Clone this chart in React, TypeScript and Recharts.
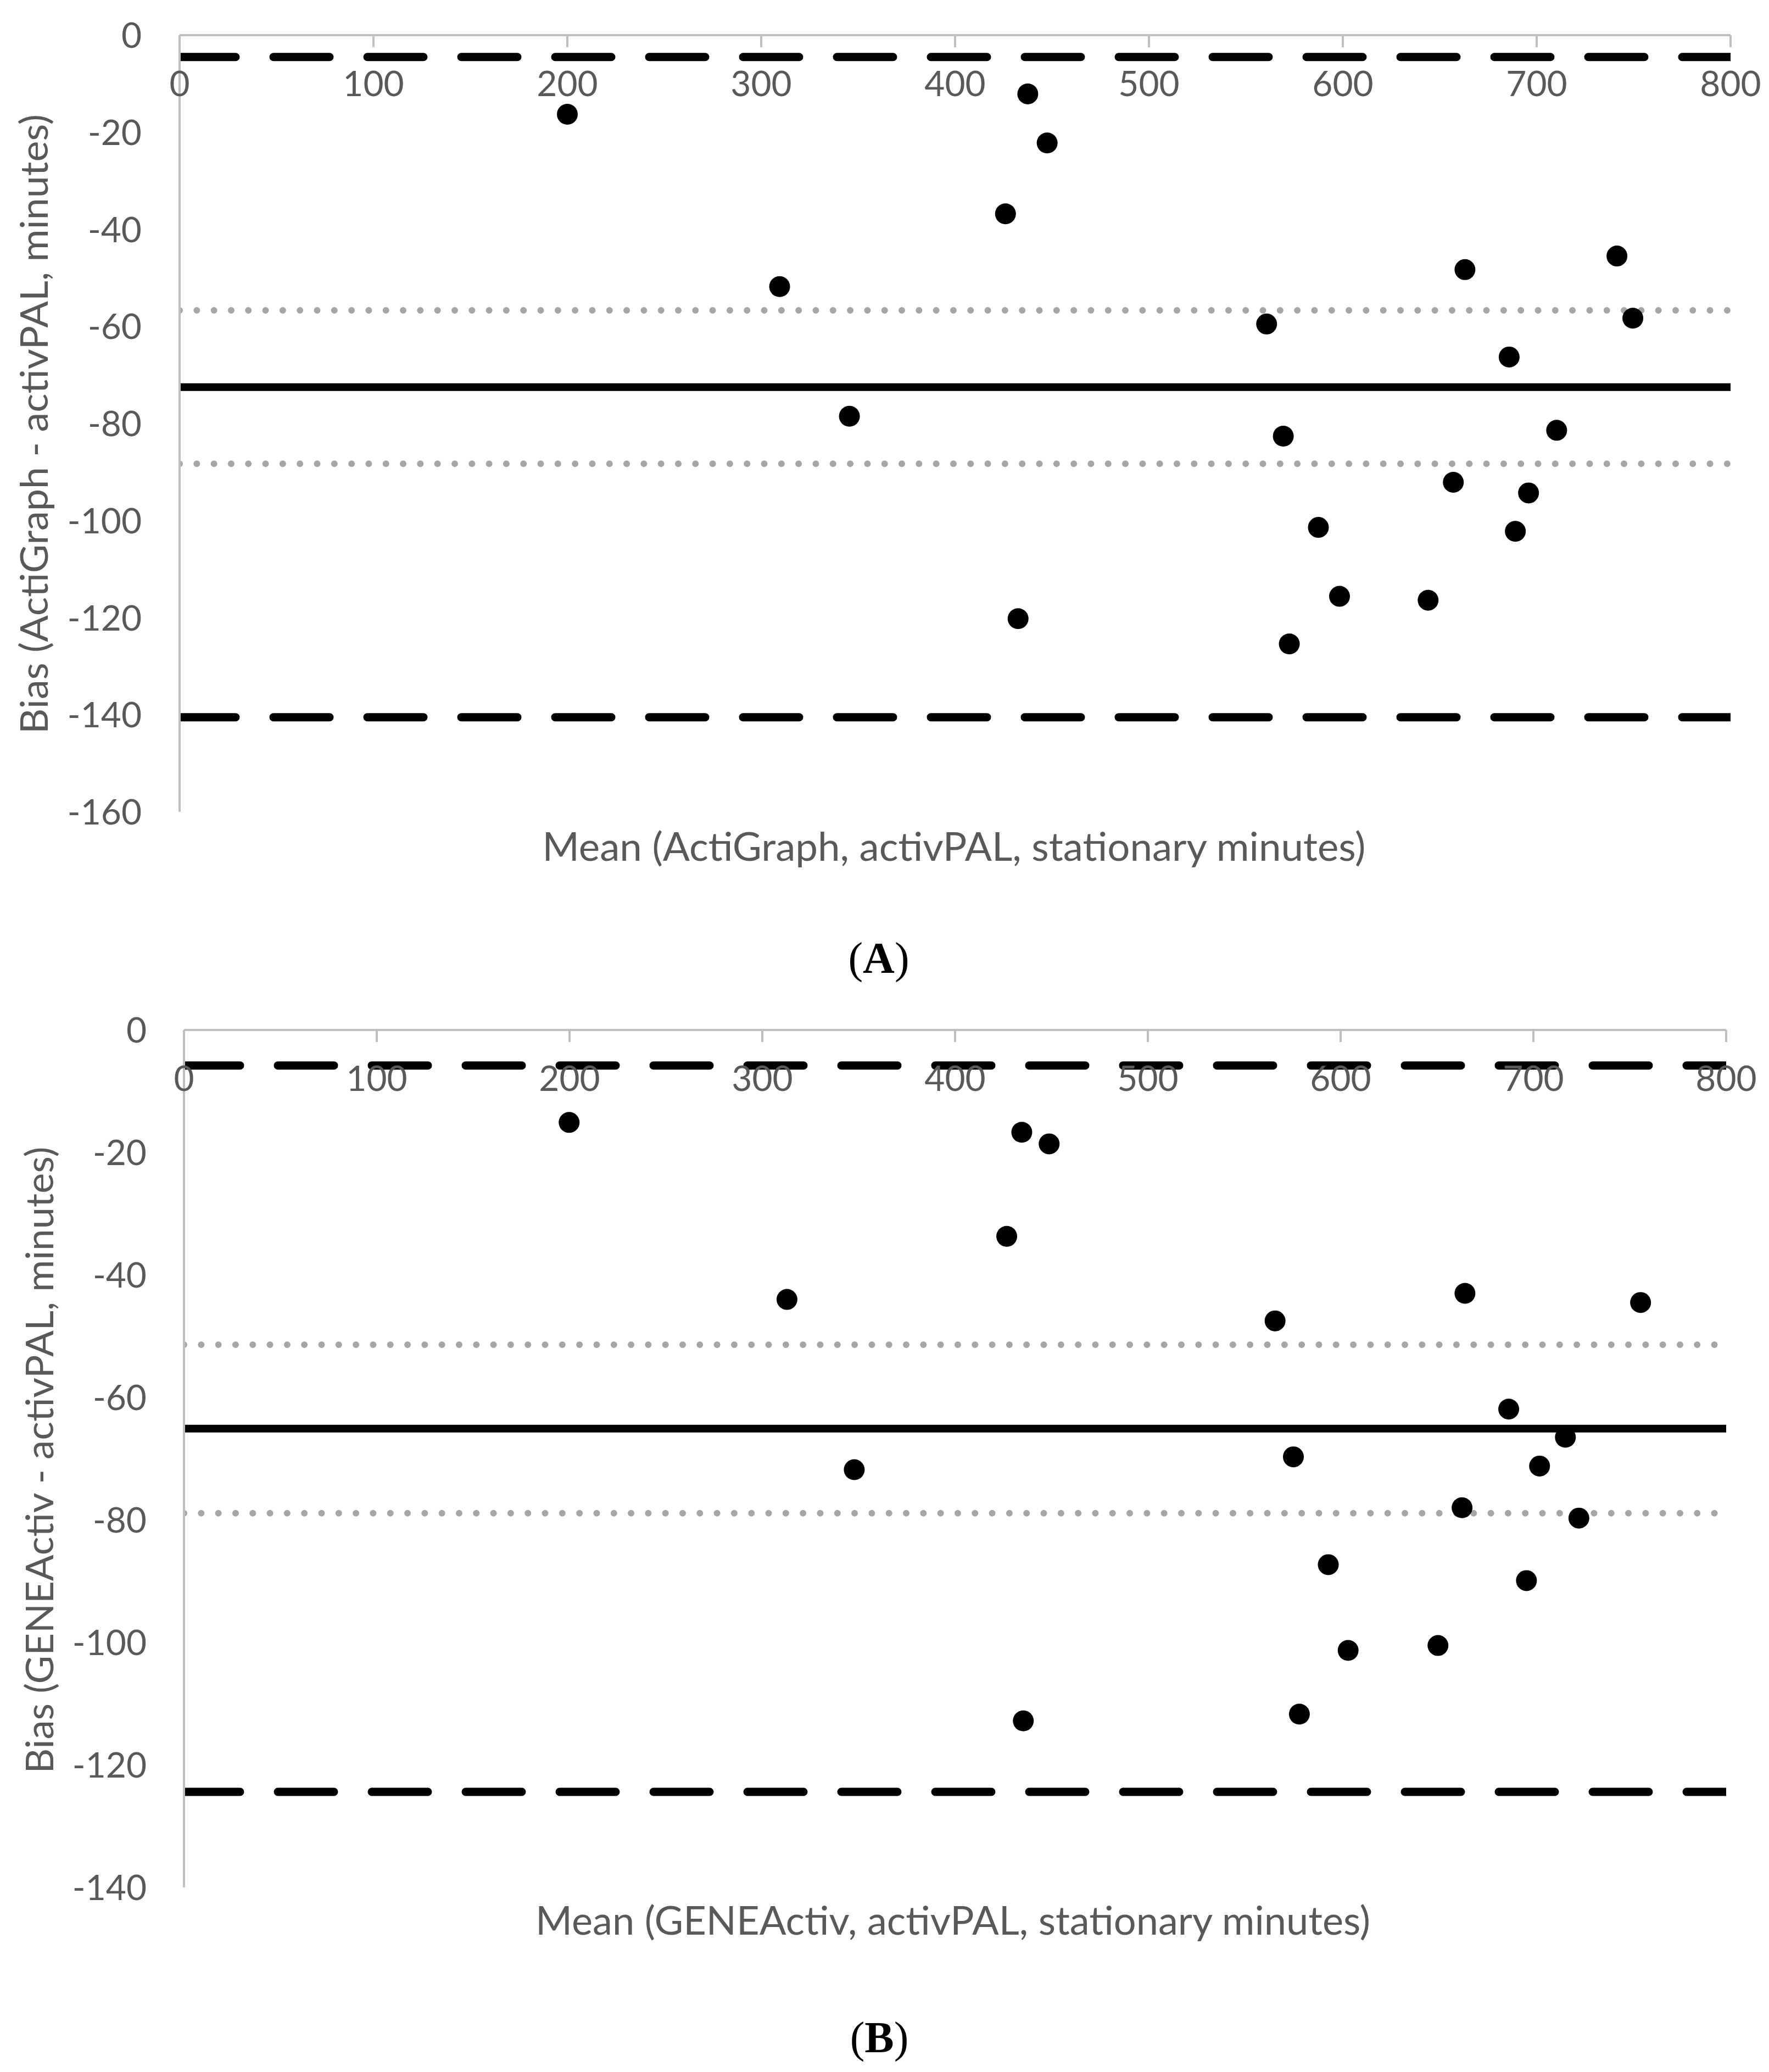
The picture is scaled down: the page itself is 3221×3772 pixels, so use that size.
import React from 'react';
import { ScatterChart, Scatter, XAxis, YAxis, ReferenceLine } from 'recharts';

// ---------- data ----------
const xTicks = [0, 100, 200, 300, 400, 500, 600, 700, 800];
const yTicksA = [0, -20, -40, -60, -80, -100, -120, -140, -160];
const yTicksB = [0, -20, -40, -60, -80, -100, -120, -140];

// Panel A: ActiGraph vs activPAL
const meanA = [200, 309.5, 345.5, 426, 437.5, 447.5, 432.5, 560.7, 569.3, 572.4, 587.4, 598.3, 644, 657, 663, 685.8, 689, 695.8, 710.3, 741.4, 749.6];
const biasA = [-16.3, -51.8, -78.5, -36.8, -12.1, -22.2, -120.2, -59.5, -82.6, -125.4, -101.4, -115.6, -116.4, -92.1, -48.3, -66.3, -102.2, -94.3, -81.4, -45.5, -58.3];
const biasLineA = -72.5;
const upperLoaA = -4.5;
const lowerLoaA = -140.5;
const upperCiA = -56.7;
const lowerCiA = -88.3;

// Panel B: GENEActiv vs activPAL
const meanB = [199.8, 312.8, 347.7, 426.8, 434.6, 448.8, 435.4, 566, 575.5, 578.6, 593.6, 603.9, 650.5, 663, 664.5, 687.2, 696.4, 703.2, 716.6, 723.6, 755.6];
const biasB = [-15.1, -44.0, -71.8, -33.7, -16.7, -18.6, -112.8, -47.5, -69.7, -111.7, -87.3, -101.3, -100.5, -78.0, -43.0, -61.9, -89.9, -71.2, -66.5, -79.7, -44.5];
const biasLineB = -65.1;
const upperLoaB = -5.8;
const lowerLoaB = -124.4;
const upperCiB = -51.4;
const lowerCiB = -78.9;

const titleXA = 'Mean (ActiGraph, activPAL, stationary minutes)';
const titleYA = 'Bias (ActiGraph - activPAL, minutes)';
const titleXB = 'Mean (GENEActiv, activPAL, stationary minutes)';
const titleYB = 'Bias (GENEActiv - activPAL, minutes)';

const dataA = meanA.map((x, i) => ({ x, y: biasA[i] }));
const dataB = meanB.map((x, i) => ({ x, y: biasB[i] }));

// ---------- styles ----------
const FONT = "'Liberation Sans Narrow', 'Arial Narrow', 'Lato', sans-serif";
const TEXT = '#595959';
const AXIS = '#bfbfbf';

type PanelProps = {
  width: number;
  height: number;
  plotTop: number;
  plotLeft: number;
  plotRight: number;
  plotBottom: number;
  data: { x: number; y: number }[];
  yMin: number;
  yTicks: number[];
  bias: number;
  upperLoa: number;
  lowerLoa: number;
  upperCi: number;
  lowerCi: number;
  labelGap: number;
  titleX: string;
  titleY: string;
  titleXCenter: number;
  titleXBaseline: number;
  titleXLength: number;
  titleYBaseX: number;
  titleYCenter: number;
  titleYLength: number;
  panel: string;
  panelX: number;
  panelBaseline: number;
};

function Panel(p: PanelProps) {
  const XTick = (props: any) => {
    const { x, payload } = props;
    return (
      <g>
        <line x1={x} x2={x} y1={p.plotTop} y2={p.plotTop + 22} stroke={AXIS} strokeWidth={4} />
        <text x={x} y={p.plotTop + 111} textAnchor="middle" fontFamily={FONT} fontSize={64} fill={TEXT}>
          {payload.value}
        </text>
      </g>
    );
  };
  const YTick = (props: any) => {
    const { y, payload } = props;
    return (
      <text x={p.plotLeft - p.labelGap} y={y} dy="0.36em" textAnchor="end" fontFamily={FONT} fontSize={64} fill={TEXT}>
        {payload.value}
      </text>
    );
  };
  const Dot = (props: any) => <circle cx={props.cx} cy={props.cy} r={19} fill="#000" />;

  return (
    <div style={{ position: 'relative', width: p.width, height: p.height }}>
      <ScatterChart
        width={p.width}
        height={p.height}
        margin={{ top: 0, left: 0, right: p.width - p.plotRight, bottom: p.height - p.plotBottom }}
        style={{ display: 'block' }}
      >
        <XAxis
          type="number"
          dataKey="x"
          orientation="top"
          height={p.plotTop}
          domain={[0, 800]}
          ticks={xTicks}
          allowDataOverflow
          axisLine={{ stroke: AXIS, strokeWidth: 4 }}
          tickLine={false}
          tick={<XTick />}
          interval={0}
        />
        <YAxis
          type="number"
          dataKey="y"
          width={p.plotLeft}
          domain={[p.yMin, 0]}
          ticks={p.yTicks}
          allowDataOverflow
          axisLine={{ stroke: AXIS, strokeWidth: 4 }}
          tickLine={false}
          tick={<YTick />}
          interval={0}
        />
        <ReferenceLine y={p.upperCi} stroke="#a6a6a6" strokeWidth={12} strokeDasharray="0.01 31.3" strokeLinecap="round" ifOverflow="hidden" />
        <ReferenceLine y={p.lowerCi} stroke="#a6a6a6" strokeWidth={12} strokeDasharray="0.01 31.3" strokeLinecap="round" ifOverflow="hidden" />
        <ReferenceLine y={p.bias} stroke="#000" strokeWidth={14} ifOverflow="hidden" />
        <ReferenceLine y={p.upperLoa} stroke="#000" strokeWidth={15} strokeDasharray="102 69" strokeLinecap="round" ifOverflow="hidden" />
        <ReferenceLine y={p.lowerLoa} stroke="#000" strokeWidth={15} strokeDasharray="102 69" strokeLinecap="round" ifOverflow="hidden" />
        <Scatter data={p.data} fill="#000" shape={<Dot />} isAnimationActive={false} />
      </ScatterChart>
      <svg
        width={p.width}
        height={p.height}
        style={{ position: 'absolute', left: 0, top: 0, pointerEvents: 'none' }}
      >
        <text
          x={p.titleXCenter}
          y={p.titleXBaseline}
          textAnchor="middle"
          fontFamily={FONT}
          fontSize={71}
          fill={TEXT}
          textLength={p.titleXLength}
          lengthAdjust="spacingAndGlyphs"
        >
          {p.titleX}
        </text>
        <text
          x={p.titleYBaseX}
          y={p.titleYCenter}
          textAnchor="middle"
          fontFamily={FONT}
          fontSize={70}
          fill={TEXT}
          textLength={p.titleYLength}
          lengthAdjust="spacingAndGlyphs"
          transform={`rotate(-90 ${p.titleYBaseX} ${p.titleYCenter})`}
        >
          {p.titleY}
        </text>
        <text
          x={p.panelX}
          y={p.panelBaseline}
          textAnchor="middle"
          fontFamily="'Liberation Serif', 'Times New Roman', serif"
          fontSize={80}
          fill="#000"
        >
          <tspan>(</tspan>
          <tspan fontWeight="bold">{p.panel}</tspan>
          <tspan>)</tspan>
        </text>
      </svg>
    </div>
  );
}

export default function App() {
  return (
    <div style={{ width: 3221, height: 3772, background: '#fff' }}>
      <style>{'body{margin:0;background:#fff}'}</style>
      <Panel
        width={3221}
        height={1830}
        plotTop={64}
        plotLeft={327}
        plotRight={3151}
        plotBottom={1478}
        data={dataA}
        yMin={-160}
        yTicks={yTicksA}
        bias={biasLineA}
        upperLoa={upperLoaA}
        lowerLoa={lowerLoaA}
        upperCi={upperCiA}
        lowerCi={lowerCiA}
        labelGap={69}
        titleX={titleXA}
        titleY={titleYA}
        titleXCenter={1737}
        titleXBaseline={1567}
        titleXLength={1499}
        titleYBaseX={87}
        titleYCenter={772}
        titleYLength={1128}
        panel="A"
        panelX={1600}
        panelBaseline={1771}
      />
      <Panel
        width={3221}
        height={1942}
        plotTop={45}
        plotLeft={335}
        plotRight={3143}
        plotBottom={1606}
        data={dataB}
        yMin={-140}
        yTicks={yTicksB}
        bias={biasLineB}
        upperLoa={upperLoaB}
        lowerLoa={lowerLoaB}
        upperCi={upperCiB}
        lowerCi={lowerCiB}
        labelGap={68}
        titleX={titleXB}
        titleY={titleYB}
        titleXCenter={1735}
        titleXBaseline={1692}
        titleXLength={1520}
        titleYBaseX={97}
        titleYCenter={828}
        titleYLength={1141}
        panel="B"
        panelX={1601}
        panelBaseline={1906}
      />
    </div>
  );
}
